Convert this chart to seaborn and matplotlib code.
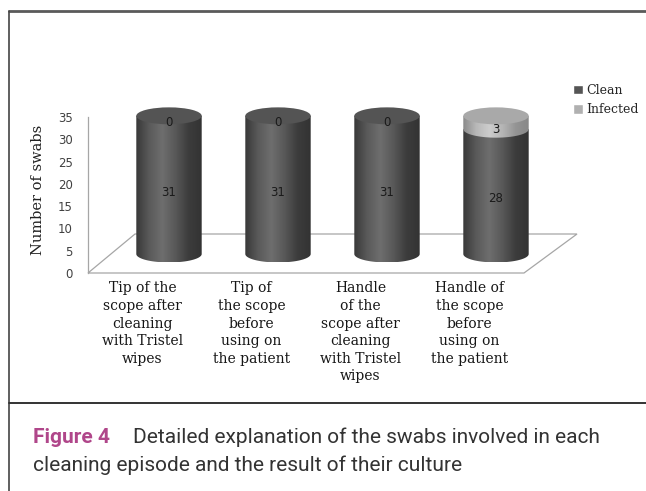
import numpy as np
import pandas as pd
import matplotlib
matplotlib.use("Agg")
import matplotlib.pyplot as plt
import seaborn as sns
from matplotlib.path import Path
from matplotlib.patches import PathPatch, Ellipse, Polygon, Patch
from matplotlib.colors import LinearSegmentedColormap
from matplotlib.lines import Line2D

# data
categories = [
    "Tip of the\nscope after\ncleaning\nwith Tristel\nwipes",
    "Tip of\nthe scope\nbefore\nusing on\nthe patient",
    "Handle\nof the\nscope after\ncleaning\nwith Tristel\nwipes",
    "Handle of\nthe scope\nbefore\nusing on\nthe patient",
]
clean = [31, 31, 31, 28]
infected = [0, 0, 0, 3]
series = ["Clean", "Infected"]
yticks = [0, 5, 10, 15, 20, 25, 30, 35]

df = pd.DataFrame({"cat": categories, "clean": clean, "infected": infected})
df["total"] = df["clean"] + df["infected"]

sns.set_style("white")
plt.rcParams["font.family"] = ["DejaVu Sans"]

W, H = 646, 491
fig = plt.figure(figsize=(W / 100, H / 100), dpi=100)


def box(x0, y0, x1, y1):
    # pixel box (origin top-left) -> figure fraction rect
    return [x0 / W, 1 - y1 / H, (x1 - x0) / W, (y1 - y0) / H]


# axis frame (front)
ppu = (273 - 117) / 35
ax = fig.add_axes(box(88, 117, 524, 273))
ax.set_xlim(-0.5, 3.5)
ax.set_ylim(0, 35)
ax.patch.set_alpha(0)
for s in ["top", "right", "bottom"]:
    ax.spines[s].set_visible(False)
ax.spines["left"].set_color("#a6a6a6")
ax.spines["left"].set_linewidth(0.9)
ax.set_yticks(yticks)
ax.set_yticklabels([str(v) for v in yticks], fontsize=8.5, color="#404040")
ax.set_xticks(range(len(categories)))
ax.set_xticklabels(categories, family="DejaVu Serif", fontsize=10, color="#161616",
                   linespacing=1.33, va="top")
ax.tick_params(axis="both", length=0)
ax.tick_params(axis="y", pad=11)
ax.tick_params(axis="x", pad=6)
ax.set_ylabel("Number of swabs", family="DejaVu Serif", fontsize=10.5, color="#222222")
ax.yaxis.set_label_coords(-0.098, 0.53)

# floor
floor = Polygon([(0, 0), (1, 0), (1 + 53 / 436, 39 / 156), (47 / 436, 39 / 156)],
                closed=True, transform=ax.transAxes, facecolor="none",
                edgecolor="#a6a6a6", lw=0.9, clip_on=False)
ax.add_patch(floor)

# bars (shifted back in depth)
dx, dy = 26.5, 19
ax2 = fig.add_axes(box(88 + dx, 117 - dy, 524 + dx, 273 - dy + 5 * ppu))
ax2.patch.set_alpha(0)
sns.barplot(data=df, x="cat", y="total", color="#b0b0b0", width=0.6, ax=ax2)
sns.barplot(data=df, x="cat", y="clean", color="#555555", width=0.6, ax=ax2)

dark = LinearSegmentedColormap.from_list("dk", ["#383838", "#5a5a5a", "#6e6e6e", "#585858", "#3c3c3c", "#333333"])
light = LinearSegmentedColormap.from_list("lt", ["#8a8a8a", "#b8b8b8", "#cdcdcd", "#b5b5b5", "#949494", "#888888"])
b = 1.9  # half height of the ellipse caps in data units


def side(x0, w, y0, y1, cmap, z):
    t = np.linspace(np.pi, 2 * np.pi, 60)
    cx = x0 + w / 2
    arc = np.column_stack([cx + w / 2 * np.cos(t), y0 + b * np.sin(t)])
    verts = np.vstack([[[x0, y1]], arc, [[x0 + w, y1]], [[x0, y1]]])
    pp = PathPatch(Path(verts, closed=True), facecolor="none", edgecolor="none")
    ax2.add_patch(pp)
    grad = np.linspace(0, 1, 256).reshape(1, -1)
    im = ax2.imshow(grad, cmap=cmap, extent=(x0, x0 + w, y0 - b, y1),
                    aspect="auto", zorder=z, interpolation="bilinear")
    im.set_clip_path(pp)


n = len(categories)
tot_bars = ax2.patches[:n]
cl_bars = ax2.patches[n:2 * n]
for i in range(n):
    cb, tb = cl_bars[i], tot_bars[i]
    x0, w = cb.get_x(), cb.get_width()
    yc = cb.get_y() + cb.get_height()
    yt = tb.get_y() + tb.get_height()
    cb.set_visible(False)
    tb.set_visible(False)
    side(x0, w, 0, yc, dark, 3)
    cap = "#545454"
    if yt > yc:
        side(x0, w, yc, yt, light, 4)
        cap = "#a9a9a9"
    ax2.add_patch(Ellipse((x0 + w / 2, yt), w, 2 * b, facecolor=cap, edgecolor="none", zorder=5))
    # data labels
    ax2.text(x0 + w / 2, yc / 2 - 1.6, str(clean[i]), ha="center", va="center",
             fontsize=8.5, color="#1a1a1a", zorder=6)
    ax2.text(x0 + w / 2, (yc + yt) / 2 - 1.6, str(infected[i]), ha="center", va="center",
             fontsize=8.5, color="#1a1a1a", zorder=6)

ax2.set_xlim(-0.5, 3.5)
ax2.set_ylim(-5, 35)
ax2.axis("off")

# legend
handles = [Patch(facecolor="#555555"), Patch(facecolor="#b0b0b0")]
fig.legend(handles, series, loc="upper left", bbox_to_anchor=(573 / W, 1 - 84 / H),
           frameon=False, prop={"family": "DejaVu Serif", "size": 9},
           handlelength=0.8, handleheight=0.8, handletextpad=0.25, labelspacing=0.5,
           borderpad=0, borderaxespad=0)

# frame lines
fig.add_artist(Line2D([9 / W, 1], [1 - 11 / H] * 2, color="#5a5a5a", lw=2))
fig.add_artist(Line2D([9 / W] * 2, [0, 1 - 11 / H], color="#444444", lw=1.2))
fig.add_artist(Line2D([9 / W, 1], [1 - 403 / H] * 2, color="#333333", lw=1.4))

# caption
fig.text(33 / W, 1 - 443 / H, "Figure 4", color="#b0468a", family="Roboto",
         weight="bold", fontsize=15, va="baseline")
fig.text(133 / W, 1 - 443 / H, "Detailed explanation of the swabs involved in each",
         color="#333333", family="Roboto", fontsize=15, va="baseline")
fig.text(33 / W, 1 - 471 / H, "cleaning episode and the result of their culture",
         color="#333333", family="Roboto", fontsize=15, va="baseline")

fig.savefig("out.png", dpi=100)
